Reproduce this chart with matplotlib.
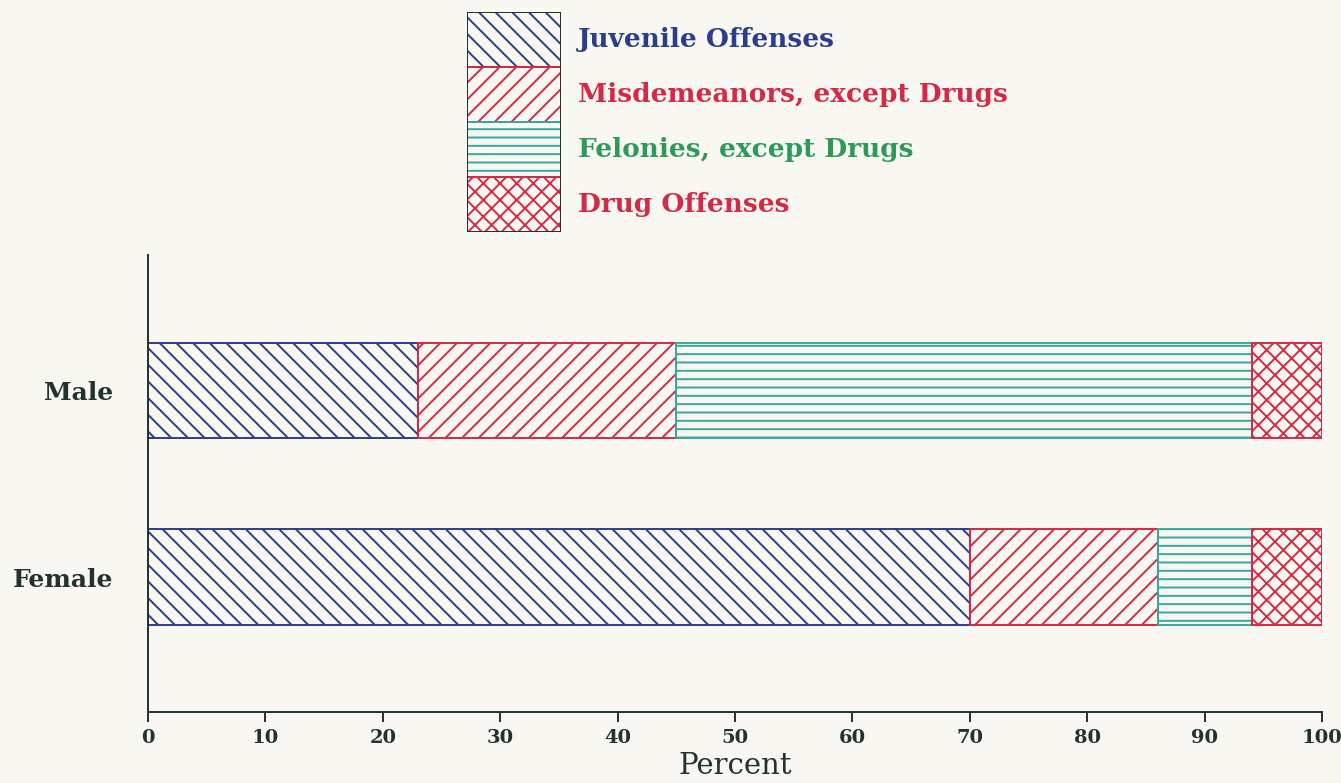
import numpy as np
import matplotlib
matplotlib.use("Agg")
import matplotlib.pyplot as plt

# data (percent)
groups = ["Female", "Male"]
categories = ["Juvenile Offenses", "Misdemeanors, except Drugs",
              "Felonies, except Drugs", "Drug Offenses"]
juvenile = [70, 23]
misdemeanors = [16, 22]
felonies = [8, 49]
drugs = [6, 6]
xticks = list(range(0, 101, 10))

series = [juvenile, misdemeanors, felonies, drugs]
hatches = ["\\\\", "//", "--", "xx"]
colors = ["#2b3d8c", "#d42a45", "#3aa89c", "#d42a45"]
text_colors = ["#2b3d8c", "#d42a45", "#2e9a5a", "#d42a45"]
bg = "#f8f7f2"
axis_color = "#22322c"

plt.rcParams["hatch.linewidth"] = 1.4
plt.rcParams["font.family"] = ["DejaVu Serif"]

fig = plt.figure(figsize=(13.41, 7.83), dpi=100, facecolor=bg)
ax = fig.add_axes([148 / 1341, 71 / 783, 1174 / 1341, 457 / 783])
ax.set_facecolor(bg)

ypos = np.arange(len(groups))
left = np.zeros(len(groups))
for vals, h, c in zip(series, hatches, colors):
    ax.barh(ypos, vals, left=left, height=0.51, color="none",
            edgecolor=c, hatch=h, linewidth=1.4)
    left += np.array(vals)

ax.set_xlim(0, 100)
ax.set_ylim(-0.724, 1.727)
ax.set_xticks(xticks)
ax.set_xticklabels([str(t) for t in xticks], fontweight="bold", fontsize=14,
                   color=axis_color)
ax.set_yticks(ypos)
ax.set_yticklabels(groups, fontweight="bold", fontsize=18, color=axis_color)
ax.tick_params(axis="y", length=0, pad=25)
ax.tick_params(axis="x", direction="out", length=7, width=1.4,
               color=axis_color, pad=5)
for s in ["top", "right"]:
    ax.spines[s].set_visible(False)
for s in ["left", "bottom"]:
    ax.spines[s].set_color(axis_color)
    ax.spines[s].set_linewidth(1.4)
ax.set_xlabel("Percent", fontsize=21, labelpad=4, color=axis_color)

# legend drawn as a stack of hatched boxes
lax = fig.add_axes([467 / 1341, (783 - 232) / 783, 94 / 1341, 220 / 783])
lax.set_facecolor(bg)
lax.set_xlim(0, 1)
lax.set_ylim(0, len(categories))
lax.axis("off")
lpos = np.arange(len(categories))[::-1] + 0.5
for i, (name, h, c, tc) in enumerate(zip(categories, hatches, colors, text_colors)):
    lax.barh(lpos[i], 1, height=1, color="none", edgecolor=c, hatch=h,
             linewidth=1.4)
    lax.text(1.18, lpos[i], name, color=tc, fontsize=19, fontweight="bold",
             va="center", ha="left", clip_on=False)
lax.barh(len(categories) / 2, 1, height=len(categories), color="none",
         edgecolor=axis_color, linewidth=1.4)

fig.savefig("out.png", dpi=100, facecolor=bg)
